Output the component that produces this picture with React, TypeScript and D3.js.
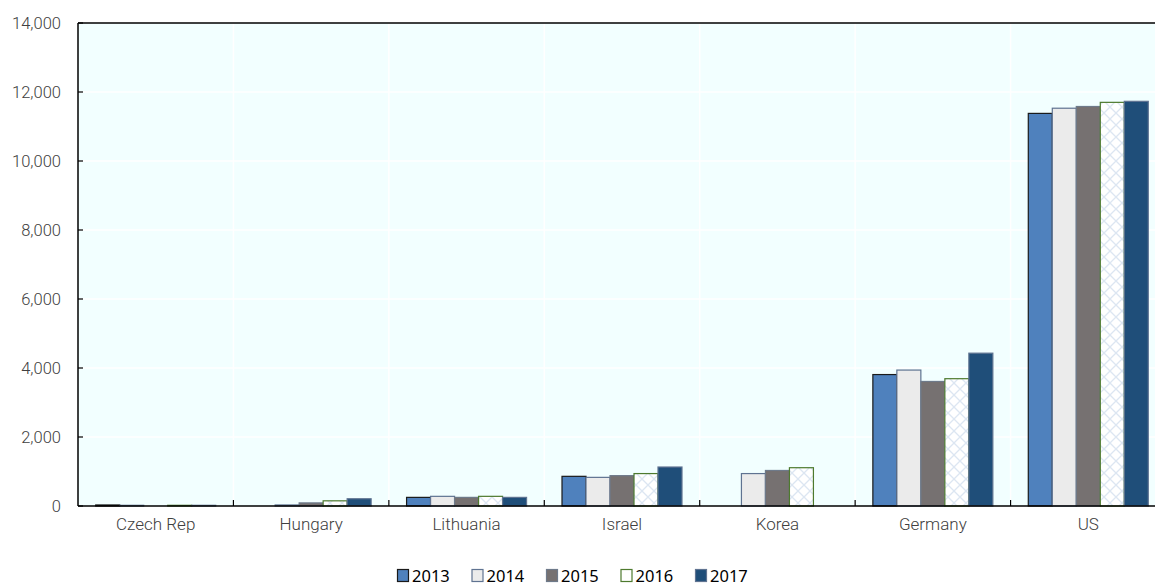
import { useEffect, useRef } from "react"
import * as d3 from "d3"

const countries = ["Czech Rep", "Hungary", "Lithuania", "Israel", "Korea", "Germany", "US"]
const years = ["2013", "2014", "2015", "2016", "2017"]
// values per year, in country order (null = no bar)
const v2013 = [30, null, 250, 860, null, 3810, 11380]
const v2014 = [20, 30, 280, 830, 940, 3940, 11530]
const v2015 = [null, 90, 250, 880, 1030, 3610, 11580]
const v2016 = [20, 150, 280, 940, 1110, 3690, 11700]
const v2017 = [20, 210, 250, 1130, null, 4430, 11730]
const yTicks = [0, 2000, 4000, 6000, 8000, 10000, 12000, 14000]

const series = [v2013, v2014, v2015, v2016, v2017]
const fills = ["#4F81BD", "#EBEBEB", "#767171", "url(#hatch)", "#1F4E79"]
const strokes = ["#1a1a1a", "#5F7391", "#6E7A8A", "#4E7A2E", "#5F7391"]

export default function App() {
  const ref = useRef<SVGSVGElement | null>(null)

  useEffect(() => {
    const width = 1155
    const height = 585
    const margin = { top: 23, right: -11, bottom: 79, left: 78 }
    const w = width - margin.left - margin.right
    const h = height - margin.top - margin.bottom

    const svg = d3.select(ref.current)
    svg.selectAll("*").remove()
    svg.attr("width", width).attr("height", height)

    const defs = svg.append("defs")
    const pat = defs.append("pattern").attr("id", "hatch").attr("patternUnits", "userSpaceOnUse")
      .attr("width", 12).attr("height", 12)
    pat.append("rect").attr("width", 12).attr("height", 12).attr("fill", "#ffffff")
    pat.append("path").attr("d", "M0,0L12,12M12,0L0,12").attr("stroke", "#DCE6F2").attr("stroke-width", 1.3)

    const g = svg.append("g").attr("transform", `translate(${margin.left},${margin.top})`)

    const x0 = d3.scaleBand().domain(countries).range([0, w]).paddingInner(0.228).paddingOuter(0.114)
    const x1 = d3.scaleBand().domain(years).range([0, x0.bandwidth()])
    const y = d3.scaleLinear().domain([0, 14000]).range([h, 0])
    const step = x0.step()

    g.append("rect").attr("width", w).attr("height", h).attr("fill", "#F2FFFF")

    // gridlines
    g.selectAll(".hgrid").data(yTicks.slice(1, -1)).enter().append("line")
      .attr("x1", 0).attr("x2", w).attr("y1", (d) => y(d)).attr("y2", (d) => y(d))
      .attr("stroke", "#ffffff").attr("stroke-width", 1.5)
    g.selectAll(".vgrid").data(countries.slice(1)).enter().append("line")
      .attr("x1", (d) => (x0(d) ?? 0) - step * 0.114).attr("x2", (d) => (x0(d) ?? 0) - step * 0.114)
      .attr("y1", 0).attr("y2", h).attr("stroke", "#ffffff").attr("stroke-width", 1.5)

    // bars
    series.forEach((vals, si) => {
      g.selectAll(`.bar${si}`).data(countries.map((c, i) => ({ c, v: vals[i] })).filter((d) => d.v != null))
        .enter().append("rect")
        .attr("x", (d) => (x0(d.c) ?? 0) + (x1(years[si]) ?? 0))
        .attr("y", (d) => y(d.v as number))
        .attr("width", x1.bandwidth())
        .attr("height", (d) => h - y(d.v as number))
        .attr("fill", fills[si])
        .attr("stroke", strokes[si])
        .attr("stroke-width", 1.2)
    })

    // axes frame
    g.append("line").attr("x1", 0).attr("x2", w).attr("y1", 0).attr("y2", 0).attr("stroke", "#000").attr("stroke-width", 1.5)
    g.append("line").attr("x1", 0).attr("x2", 0).attr("y1", 0).attr("y2", h).attr("stroke", "#000").attr("stroke-width", 1.5)
    g.append("line").attr("x1", 0).attr("x2", w).attr("y1", h).attr("y2", h).attr("stroke", "#000").attr("stroke-width", 1.5)

    const font = "Roboto, 'Liberation Sans', sans-serif"

    // y ticks
    g.selectAll(".ytick").data(yTicks).enter().append("line")
      .attr("x1", 0).attr("x2", 5).attr("y1", (d) => y(d)).attr("y2", (d) => y(d)).attr("stroke", "#000").attr("stroke-width", 1.2)
    g.selectAll(".ylab").data(yTicks).enter().append("text")
      .attr("x", -17).attr("y", (d) => y(d)).attr("dy", "0.35em").attr("text-anchor", "end")
      .attr("font-family", font).attr("font-weight", 300).attr("font-size", 16.5).attr("fill", "#404040")
      .text((d) => d3.format(",")(d))

    // x ticks
    g.selectAll(".xtick").data(countries.slice(1).concat(["end"])).enter().append("line")
      .attr("x1", (_, i) => step * (i + 1)).attr("x2", (_, i) => step * (i + 1))
      .attr("y1", h).attr("y2", h - 6).attr("stroke", "#000").attr("stroke-width", 1.2)
    g.selectAll(".xlab").data(countries).enter().append("text")
      .attr("x", (d) => (x0(d) ?? 0) + x0.bandwidth() / 2).attr("y", h + 24)
      .attr("text-anchor", "middle").attr("font-family", font).attr("font-weight", 300)
      .attr("font-size", 17).attr("fill", "#404040")
      .text((d) => d)

    // legend
    const lg = svg.append("g").attr("transform", `translate(397,568)`)
    years.forEach((yr, i) => {
      const it = lg.append("g").attr("transform", `translate(${i * 74.5},0)`)
      it.append("rect").attr("x", 0.5).attr("y", 1.5).attr("width", 11).attr("height", 12)
        .attr("fill", fills[i] === "url(#hatch)" ? "#ffffff" : fills[i]).attr("stroke", strokes[i]).attr("stroke-width", 1.2)
      it.append("text").attr("x", 15).attr("y", 13.5).attr("font-family", "'Noto Sans', sans-serif")
        .attr("font-size", 16.5).attr("fill", "#000").text(yr)
    })
  }, [])

  return <svg ref={ref} style={{ position: "absolute", left: 0, top: 0, display: "block" }}></svg>
}
